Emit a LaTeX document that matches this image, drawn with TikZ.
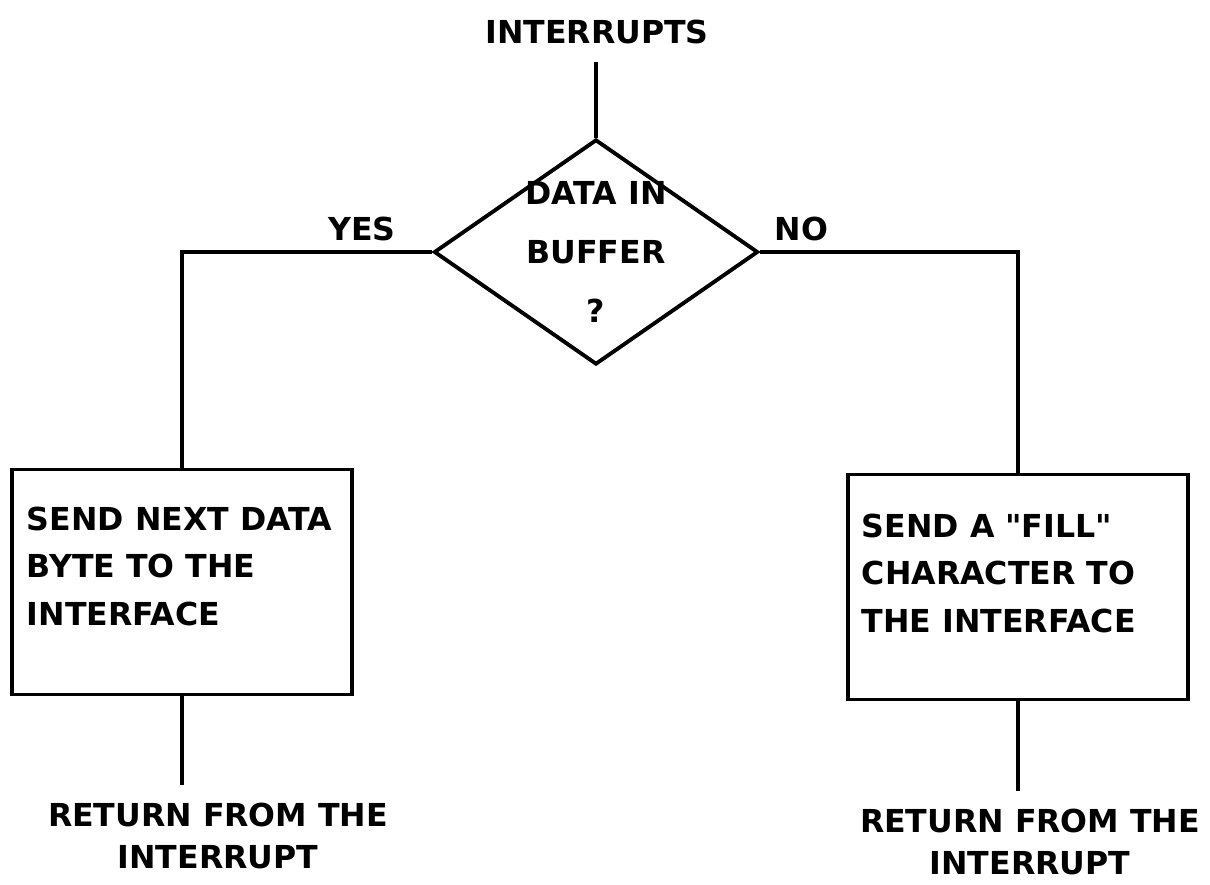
\documentclass[tikz,border=0pt]{standalone}
\usepackage{fontspec}
\setmainfont{DejaVu Sans}
\usetikzlibrary{positioning,shapes.geometric}

\begin{document}
\begin{tikzpicture}[
  x=0.02cm, y=-0.02cm,
  font=\bfseries\fontsize{18}{27}\selectfont,
  line width=2.2pt,
  box/.style={rectangle, draw, minimum width=6.8cm, minimum height=4.5cm},
  boxtext/.style={anchor=north west, inner sep=0pt, align=left},
  decision/.style={diamond, draw, inner sep=-2.3pt, align=center, aspect=1.44,
    minimum width=6.48cm, minimum height=4.5cm, font=\bfseries\fontsize{18}{33.5}\selectfont},
  exit/.style={align=center, inner sep=0pt, font=\bfseries\fontsize{18}{24}\selectfont}
]
\useasboundingbox (0,0) rectangle (1210,885);
% Entry and test
\node[inner sep=0pt] (interrupts) at (597,32) {INTERRUPTS};
\node[decision] (buffer) at (596,252) {DATA IN\\BUFFER\\?};
% Two actions
\node[box] (sendbyte) at (182,582) {};
\node[boxtext] (sendbytetext) at (25,505) {SEND NEXT DATA\\BYTE TO THE\\INTERFACE};
\node[box] (sendfill) at (1018,587) {};
\node[boxtext] (sendfilltext) at (860,512) {SEND A \textquotedbl FILL\textquotedbl\\CHARACTER TO\\THE INTERFACE};
% Exits
\node[exit] (leftreturn) at (218,836) {RETURN FROM THE\\INTERRUPT};
\node[exit] (rightreturn) at (1030,842) {RETURN FROM THE\\INTERRUPT};
\coordinate (entry) at (596,62);
\draw (entry) -- (buffer.north);
\draw (buffer.west) -| node[pos=0.14, above=2pt] (yes) {YES} (sendbyte.north);
\draw (buffer.east) -| node[pos=0.08, above=2pt] (no) {NO} (sendfill.north);
\draw (sendbyte.south) -- ([yshift=9pt] sendbyte.south |- leftreturn.north);
\draw (sendfill.south) -- ([yshift=9pt] sendfill.south |- rightreturn.north);
\end{tikzpicture}
\end{document}
